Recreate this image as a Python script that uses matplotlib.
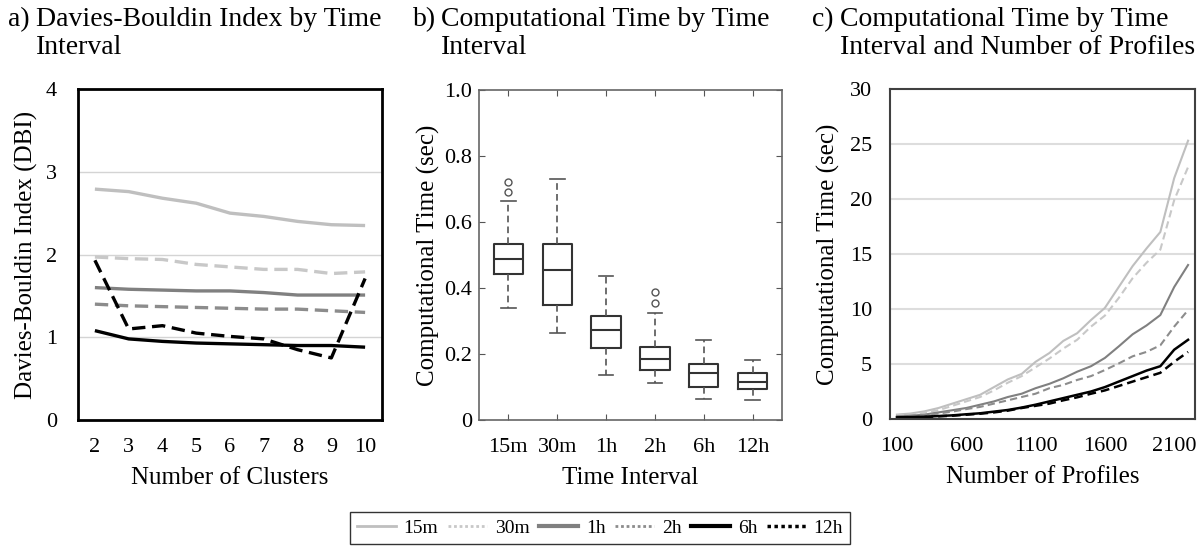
import numpy as np
import matplotlib
matplotlib.use("Agg")
import matplotlib.pyplot as plt
from matplotlib.lines import Line2D

plt.rcParams['font.family'] = ['Liberation Serif', 'DejaVu Serif']

# ---- data ----
intervals = ['15m', '30m', '1h', '2h', '6h', '12h']

clusters = ['2', '3', '4', '5', '6', '7', '8', '9', '10']
dbi_15m = [2.79, 2.76, 2.68, 2.62, 2.50, 2.46, 2.40, 2.36, 2.35]
dbi_30m = [1.97, 1.95, 1.94, 1.88, 1.85, 1.82, 1.82, 1.77, 1.79]
dbi_1h = [1.60, 1.58, 1.57, 1.56, 1.56, 1.54, 1.51, 1.51, 1.51]
dbi_2h = [1.40, 1.38, 1.37, 1.36, 1.35, 1.34, 1.34, 1.32, 1.30]
dbi_6h = [1.08, 0.98, 0.95, 0.93, 0.92, 0.91, 0.90, 0.90, 0.88]
dbi_12h = [1.93, 1.10, 1.14, 1.05, 1.01, 0.98, 0.85, 0.75, 1.71]

# box stats for panel b
box_whislo = [0.339, 0.263, 0.136, 0.111, 0.064, 0.061]
box_q1 = [0.442, 0.348, 0.217, 0.152, 0.101, 0.094]
box_med = [0.487, 0.455, 0.272, 0.184, 0.142, 0.116]
box_q3 = [0.533, 0.533, 0.316, 0.222, 0.169, 0.143]
box_whishi = [0.665, 0.729, 0.436, 0.323, 0.242, 0.182]
box_fliers = [[0.690, 0.722], [], [], [0.354, 0.388], [], []]

profiles = [str(p) for p in range(100, 2300, 100)]
time_15m = [0.40, 0.50, 0.70, 1.00, 1.40, 1.80, 2.20, 2.90, 3.60, 4.10, 5.20, 6.00,
            7.10, 7.80, 9.00, 10.10, 12.00, 13.90, 15.50, 17.00, 21.90, 25.30]
time_30m = [0.35, 0.40, 0.60, 0.80, 1.20, 1.60, 2.00, 2.60, 3.30, 3.90, 4.70, 5.50,
            6.40, 7.20, 8.40, 9.40, 11.00, 12.80, 14.20, 15.40, 19.90, 22.90]
time_1h = [0.25, 0.30, 0.40, 0.60, 0.80, 1.00, 1.30, 1.60, 2.00, 2.30, 2.80, 3.20,
           3.70, 4.30, 4.80, 5.55, 6.60, 7.70, 8.50, 9.45, 12.00, 14.00]
time_2h = [0.20, 0.27, 0.36, 0.50, 0.67, 0.90, 1.10, 1.40, 1.70, 2.00, 2.30, 2.80,
           3.10, 3.55, 3.90, 4.45, 5.05, 5.70, 6.10, 6.70, 8.40, 9.90]
time_6h = [0.15, 0.18, 0.20, 0.27, 0.33, 0.43, 0.52, 0.67, 0.82, 1.04, 1.30, 1.60,
           1.90, 2.20, 2.50, 2.90, 3.40, 3.90, 4.40, 4.80, 6.30, 7.20]
time_12h = [0.12, 0.15, 0.18, 0.24, 0.30, 0.39, 0.48, 0.60, 0.76, 1.00, 1.20, 1.40,
            1.70, 1.97, 2.30, 2.60, 3.00, 3.40, 3.80, 4.20, 5.20, 6.10]

# series style: colour, dashed?, panel-a width, legend width
styles = {
    '15m': ('#bfbfbf', False, 2.4, 2.0),
    '30m': ('#c8c8c8', True, 2.4, 2.0),
    '1h': ('#808080', False, 2.4, 3.0),
    '2h': ('#8c8c8c', True, 2.4, 2.0),
    '6h': ('#000000', False, 2.4, 3.0),
    '12h': ('#000000', True, 2.4, 2.5),
}

fig = plt.figure(figsize=(11.99, 5.5), dpi=100)
W, H = 1199.0, 550.0


def px_axes(l, t, r, b):
    return fig.add_axes([l / W, 1 - b / H, (r - l) / W, (b - t) / H])


tick_fs = 16
label_fs = 18
title_fs = 20

# ---- panel a ----
ax1 = px_axes(78, 89, 382, 420)
xa = np.arange(len(clusters))
for name, vals in zip(intervals, [dbi_15m, dbi_30m, dbi_1h, dbi_2h, dbi_6h, dbi_12h]):
    c, dashed, lw, _ = styles[name]
    ln, = ax1.plot(xa, vals, color=c, lw=lw, solid_capstyle='butt')
    if dashed:
        ln.set_dashes((4, 2))
ax1.set_xlim(-0.5, len(clusters) - 0.5)
ax1.set_ylim(0, 4)
ax1.set_yticks([0, 1, 2, 3, 4])
ax1.set_xticks(xa)
ax1.set_xticklabels(clusters)
ax1.tick_params(length=0, labelsize=tick_fs)
ax1.tick_params(axis='y', pad=15)
ax1.tick_params(axis='x', pad=13)
for y in [1, 2, 3]:
    ax1.axhline(y, color='#d4d4d4', lw=1.0, zorder=0)
for s in ax1.spines.values():
    s.set_color('black')
    s.set_linewidth(2.0)
ax1.set_xlabel('Number of Clusters', fontsize=label_fs)
ax1.set_ylabel('Davies-Bouldin Index (DBI)', fontsize=label_fs)
ax1.xaxis.set_label_coords(0.5, -0.143)
ax1.yaxis.set_label_coords(-0.13, 0.5)

# ---- panel b ----
ax2 = px_axes(479, 90, 782, 420)
stats = []
for i, name in enumerate(intervals):
    stats.append(dict(label=name, whislo=box_whislo[i], q1=box_q1[i], med=box_med[i],
                      q3=box_q3[i], whishi=box_whishi[i], fliers=box_fliers[i]))
bc = '#333333'
ax2.bxp(stats, positions=np.arange(1, 7), widths=0.6, showfliers=True,
        boxprops=dict(color=bc, lw=1.5),
        medianprops=dict(color=bc, lw=1.5),
        whiskerprops=dict(color='#555555', lw=1.2, linestyle=(0, (4, 2.5))),
        capprops=dict(color='#555555', lw=1.2),
        flierprops=dict(marker='o', markersize=5, markerfacecolor='none',
                        markeredgecolor='#555555', markeredgewidth=1.0))
ax2.set_xlim(0.4, 6.6)
ax2.set_ylim(0, 1.0)
ax2.set_yticks([0, 0.2, 0.4, 0.6, 0.8, 1.0])
ax2.set_yticklabels(['0', '0.2', '0.4', '0.6', '0.8', '1.0'])
ax2.set_xticks(np.arange(1, 7))
ax2.set_xticklabels(intervals)
ax2.tick_params(direction='in', length=4, color='#555555', labelsize=tick_fs,
                top=True, right=True)
ax2.tick_params(axis='x', pad=13)
ax2.tick_params(axis='y', pad=5)
for s in ax2.spines.values():
    s.set_color('#666666')
    s.set_linewidth(1.2)
ax2.set_xlabel('Time Interval', fontsize=label_fs)
ax2.set_ylabel('Computational Time (sec)', fontsize=label_fs)
ax2.xaxis.set_label_coords(0.5, -0.143)
ax2.yaxis.set_label_coords(-0.13, 0.5)

# ---- panel c ----
ax3 = px_axes(890, 89, 1195, 419)
xc = np.arange(len(profiles))
for name, vals in zip(intervals, [time_15m, time_30m, time_1h, time_2h, time_6h, time_12h]):
    c, dashed, _, _ = styles[name]
    lw = 1.8 if name in ('6h', '12h') else 1.5
    ln, = ax3.plot(xc, vals, color=c, lw=lw)
    if dashed:
        ln.set_dashes((3.5, 2))
ax3.set_xlim(-0.5, len(profiles) - 0.5)
ax3.set_ylim(0, 30)
ax3.set_yticks([0, 5, 10, 15, 20, 25, 30])
ax3.set_xticks(xc[::5])
ax3.set_xticklabels(profiles[::5])
ax3.tick_params(length=0, labelsize=tick_fs)
ax3.tick_params(axis='y', pad=13)
ax3.tick_params(axis='x', pad=13)
for y in [5, 10, 15, 20, 25]:
    ax3.axhline(y, color='#dddddd', lw=1.5, zorder=0)
for s in ax3.spines.values():
    s.set_color('#404040')
    s.set_linewidth(1.5)
ax3.set_xlabel('Number of Profiles', fontsize=label_fs)
ax3.set_ylabel('Computational Time (sec)', fontsize=label_fs)
ax3.xaxis.set_label_coords(0.5, -0.143)
ax3.yaxis.set_label_coords(-0.165, 0.5)

# ---- titles ----
titles = [('a)', 'Davies-Bouldin Index by Time\nInterval', 8, 36),
          ('b)', 'Computational Time by Time\nInterval', 413, 441),
          ('c)', 'Computational Time by Time\nInterval and Number of Profiles', 812, 840)]
for tag, txt, xt, xx in titles:
    fig.text(xt / W, 1 - 7 / H, tag, fontsize=title_fs, ha='left', va='top')
    fig.text(xx / W, 1 - 7 / H, txt, fontsize=title_fs, ha='left', va='top',
             linespacing=1.15)

# ---- legend ----
handles = []
for name in intervals:
    c, dashed, _, lw = styles[name]
    h = Line2D([], [], color=c, lw=lw)
    if dashed:
        h.set_dashes((1.0, 1.0))
    handles.append(h)
fig.legend(handles, intervals, loc='center', bbox_to_anchor=(600 / W, 1 - 528 / H),
           ncol=6, fontsize=14, frameon=True, fancybox=False, edgecolor='#333333',
           handlelength=2.0, handletextpad=0.4, columnspacing=0.5,
           borderpad=0.35, framealpha=1)

fig.savefig('out.png', dpi=100)
